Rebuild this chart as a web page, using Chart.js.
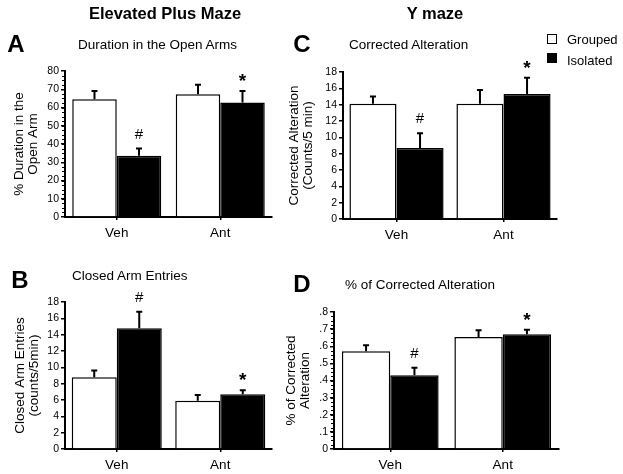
<!DOCTYPE html>
<html>
<head>
<meta charset="utf-8">
<script src="https://cdn.jsdelivr.net/npm/chart.js@4.4.1/dist/chart.umd.min.js"></script>
<style>
  body { margin: 0; background: #fff; }
  #wrap { position: relative; width: 623px; height: 474px; overflow: hidden;
          font-family: "Liberation Sans", Arial, sans-serif; color: #000; }
  #wrap canvas { position: absolute; left: 0; top: 0; }
  .txt { position: absolute; white-space: nowrap; line-height: 1; }
  .head { font-weight: bold; font-size: 16.5px; transform: translate(-50%, -50%); }
  .letter { font-weight: bold; font-size: 24px; transform: translate(-50%, -50%); }
  .sub { font-size: 13.5px; transform: translateY(-50%); }
  .leg { font-size: 13px; transform: translateY(-50%); }
  .sw { position: absolute; width: 10px; height: 10px; box-sizing: border-box; border: 1.5px solid #000; }
</style>
</head>
<body>
<div id="wrap">
  <canvas id="cA" width="623" height="474"></canvas>
  <canvas id="cB" width="623" height="474"></canvas>
  <canvas id="cC" width="623" height="474"></canvas>
  <canvas id="cD" width="623" height="474"></canvas>

  <div class="txt head" style="left:165px; top:13px;">Elevated Plus Maze</div>
  <div class="txt head" style="left:435px; top:13px;">Y maze</div>

  <div class="txt letter" style="left:16px; top:44px;">A</div>
  <div class="txt letter" style="left:302px; top:44px;">C</div>
  <div class="txt letter" style="left:20px; top:280px;">B</div>
  <div class="txt letter" style="left:302px; top:284px;">D</div>

  <div class="txt sub" style="left:78px; top:45px;">Duration in the Open Arms</div>
  <div class="txt sub" style="left:349px; top:45px;">Corrected Alteration</div>
  <div class="txt sub" style="left:72px; top:276px;">Closed Arm Entries</div>
  <div class="txt sub" style="left:345px; top:285px;">% of Corrected Alteration</div>

  <div class="sw" style="left:547px; top:34px; background:#fff;"></div>
  <div class="txt leg" style="left:567px; top:39px;">Grouped</div>
  <div class="sw" style="left:547px; top:53px; background:#000;"></div>
  <div class="txt leg" style="left:567px; top:60px;">Isolated</div>
</div>

<script>
const groups = ['Veh', 'Ant'];

// A: duration in the open arms (%)
const openGrouped = [64.5, 67.3];
const openGroupedErr = [4.5, 5.2];
const openIsolated = [33.5, 62.7];
const openIsolatedErr = [4.0, 6.3];

// B: closed arm entries (counts/5min)
const closedGrouped = [8.8, 5.9];
const closedGroupedErr = [0.8, 0.7];
const closedIsolated = [14.8, 6.7];
const closedIsolatedErr = [2.0, 0.5];

// C: corrected alteration (counts/5 min)
const altGrouped = [14.1, 14.1];
const altGroupedErr = [0.9, 1.7];
const altIsolated = [8.7, 15.3];
const altIsolatedErr = [1.8, 2.0];

// D: % of corrected alteration
const pctGrouped = [0.571, 0.654];
const pctGroupedErr = [0.035, 0.039];
const pctIsolated = [0.431, 0.670];
const pctIsolatedErr = [0.043, 0.027];

const isolatedMarks = ['#', '*'];

const family = '"Liberation Sans", Arial, sans-serif';
Chart.defaults.font.family = family;
Chart.defaults.color = '#000';

// error bars (upper half only) plus the # / * marks above them
const errorBars = {
  id: 'errorBars',
  afterDatasetsDraw(chart) {
    const ctx = chart.ctx;
    const y = chart.scales.y;
    chart.data.datasets.forEach((ds, i) => {
      chart.getDatasetMeta(i).data.forEach((bar, j) => {
        const top = y.getPixelForValue(ds.data[j] + ds.err[j]);
        ctx.save();
        ctx.strokeStyle = '#000';
        ctx.lineWidth = 2;
        ctx.beginPath();
        ctx.moveTo(bar.x, bar.y);
        ctx.lineTo(bar.x, top);
        ctx.moveTo(bar.x - 3, top);
        ctx.lineTo(bar.x + 3, top);
        ctx.stroke();
        const mark = ds.marks && ds.marks[j];
        if (mark) {
          ctx.fillStyle = '#000';
          ctx.textAlign = 'center';
          ctx.textBaseline = 'middle';
          if (mark === '*') {
            ctx.font = 'bold 19px ' + family;
            ctx.fillText(mark, bar.x, top - 9);
          } else {
            ctx.font = '15px ' + family;
            ctx.fillText(mark, bar.x, top - 14);
          }
        }
        ctx.restore();
      });
    });
  }
};

// short minor ticks on the y axis
const minorTicks = {
  id: 'minorTicks',
  afterDraw(chart, args, opts) {
    if (!opts.step) return;
    const y = chart.scales.y;
    const x0 = chart.chartArea.left;
    const ctx = chart.ctx;
    ctx.save();
    ctx.strokeStyle = '#000';
    ctx.lineWidth = 1.2;
    ctx.beginPath();
    const n = Math.round((y.max - y.min) / opts.step);
    for (let k = 1; k < n; k++) {
      const py = Math.round(y.getPixelForValue(y.min + k * opts.step)) + 0.5;
      ctx.moveTo(x0 - 3, py);
      ctx.lineTo(x0, py);
    }
    ctx.stroke();
    ctx.restore();
  }
};

const titleLine = 14.5;

function panel(id, p) {
  const padLeft = p.titleX - titleLine / 2;
  new Chart(document.getElementById(id), {
    type: 'bar',
    data: {
      labels: groups,
      datasets: [
        { label: 'Grouped', data: p.grouped, err: p.groupedErr,
          backgroundColor: '#fff', borderColor: '#000', borderWidth: 1.5 },
        { label: 'Isolated', data: p.isolated, err: p.isolatedErr, marks: isolatedMarks,
          backgroundColor: '#000', borderColor: '#000', borderWidth: 1.5 }
      ]
    },
    options: {
      responsive: false,
      animation: false,
      events: [],
      categoryPercentage: p.catPct,
      barPercentage: 1,
      layout: { padding: { left: padLeft, top: p.top, right: 623 - p.right, bottom: 474 - p.bottom - 24 } },
      plugins: {
        legend: { display: false },
        tooltip: { enabled: false },
        minorTicks: { step: p.minor }
      },
      scales: {
        x: {
          grid: { offset: false, drawOnChartArea: false, tickLength: 3, color: '#000', lineWidth: 1.5 },
          border: { color: '#000', width: 2 },
          ticks: { color: '#000', font: { size: 13.5 }, padding: 5 },
          afterFit(s) { s.height = 24; }
        },
        y: {
          min: 0,
          max: p.max,
          ticks: { stepSize: p.step, color: '#000', font: { size: 10.5 }, padding: 2, callback: p.fmt },
          grid: { drawOnChartArea: false, tickLength: 4, color: '#000', lineWidth: 1.5 },
          border: { color: '#000', width: 2 },
          title: { display: true, text: p.title, color: '#000', padding: 0,
                   font: { size: 13.5, lineHeight: titleLine + 'px' } },
          afterFit(s) { s.width = p.left - padLeft; }
        }
      }
    },
    plugins: [errorBars, minorTicks]
  });
}

panel('cA', {
  grouped: openGrouped, groupedErr: openGroupedErr,
  isolated: openIsolated, isolatedErr: openIsolatedErr,
  title: ['% Duration in the', 'Open Arm'],
  titleX: 19, left: 65, right: 272, top: 71, bottom: 217,
  max: 80, step: 10, minor: 2.5, catPct: 0.86
});

panel('cB', {
  grouped: closedGrouped, groupedErr: closedGroupedErr,
  isolated: closedIsolated, isolatedErr: closedIsolatedErr,
  title: ['Closed Arm Entries', '(counts/5min)'],
  titleX: 20, left: 65, right: 272, top: 302, bottom: 449,
  max: 18, step: 2, catPct: 0.87
});

panel('cC', {
  grouped: altGrouped, groupedErr: altGroupedErr,
  isolated: altIsolated, isolatedErr: altIsolatedErr,
  title: ['Corrected Alteration', '(Counts/5 min)'],
  titleX: 294, left: 343, right: 557, top: 72, bottom: 219,
  max: 18, step: 2, catPct: 0.88
});

panel('cD', {
  grouped: pctGrouped, groupedErr: pctGroupedErr,
  isolated: pctIsolated, isolatedErr: pctIsolatedErr,
  title: ['% of Corrected', 'Alteration'],
  titleX: 291, left: 334, right: 559, top: 312, bottom: 449,
  max: 0.8, step: 0.1, minor: 0.025, catPct: 0.86,
  fmt: v => v === 0 ? '0' : '.' + Math.round(v * 10)
});
</script>
</body>
</html>
